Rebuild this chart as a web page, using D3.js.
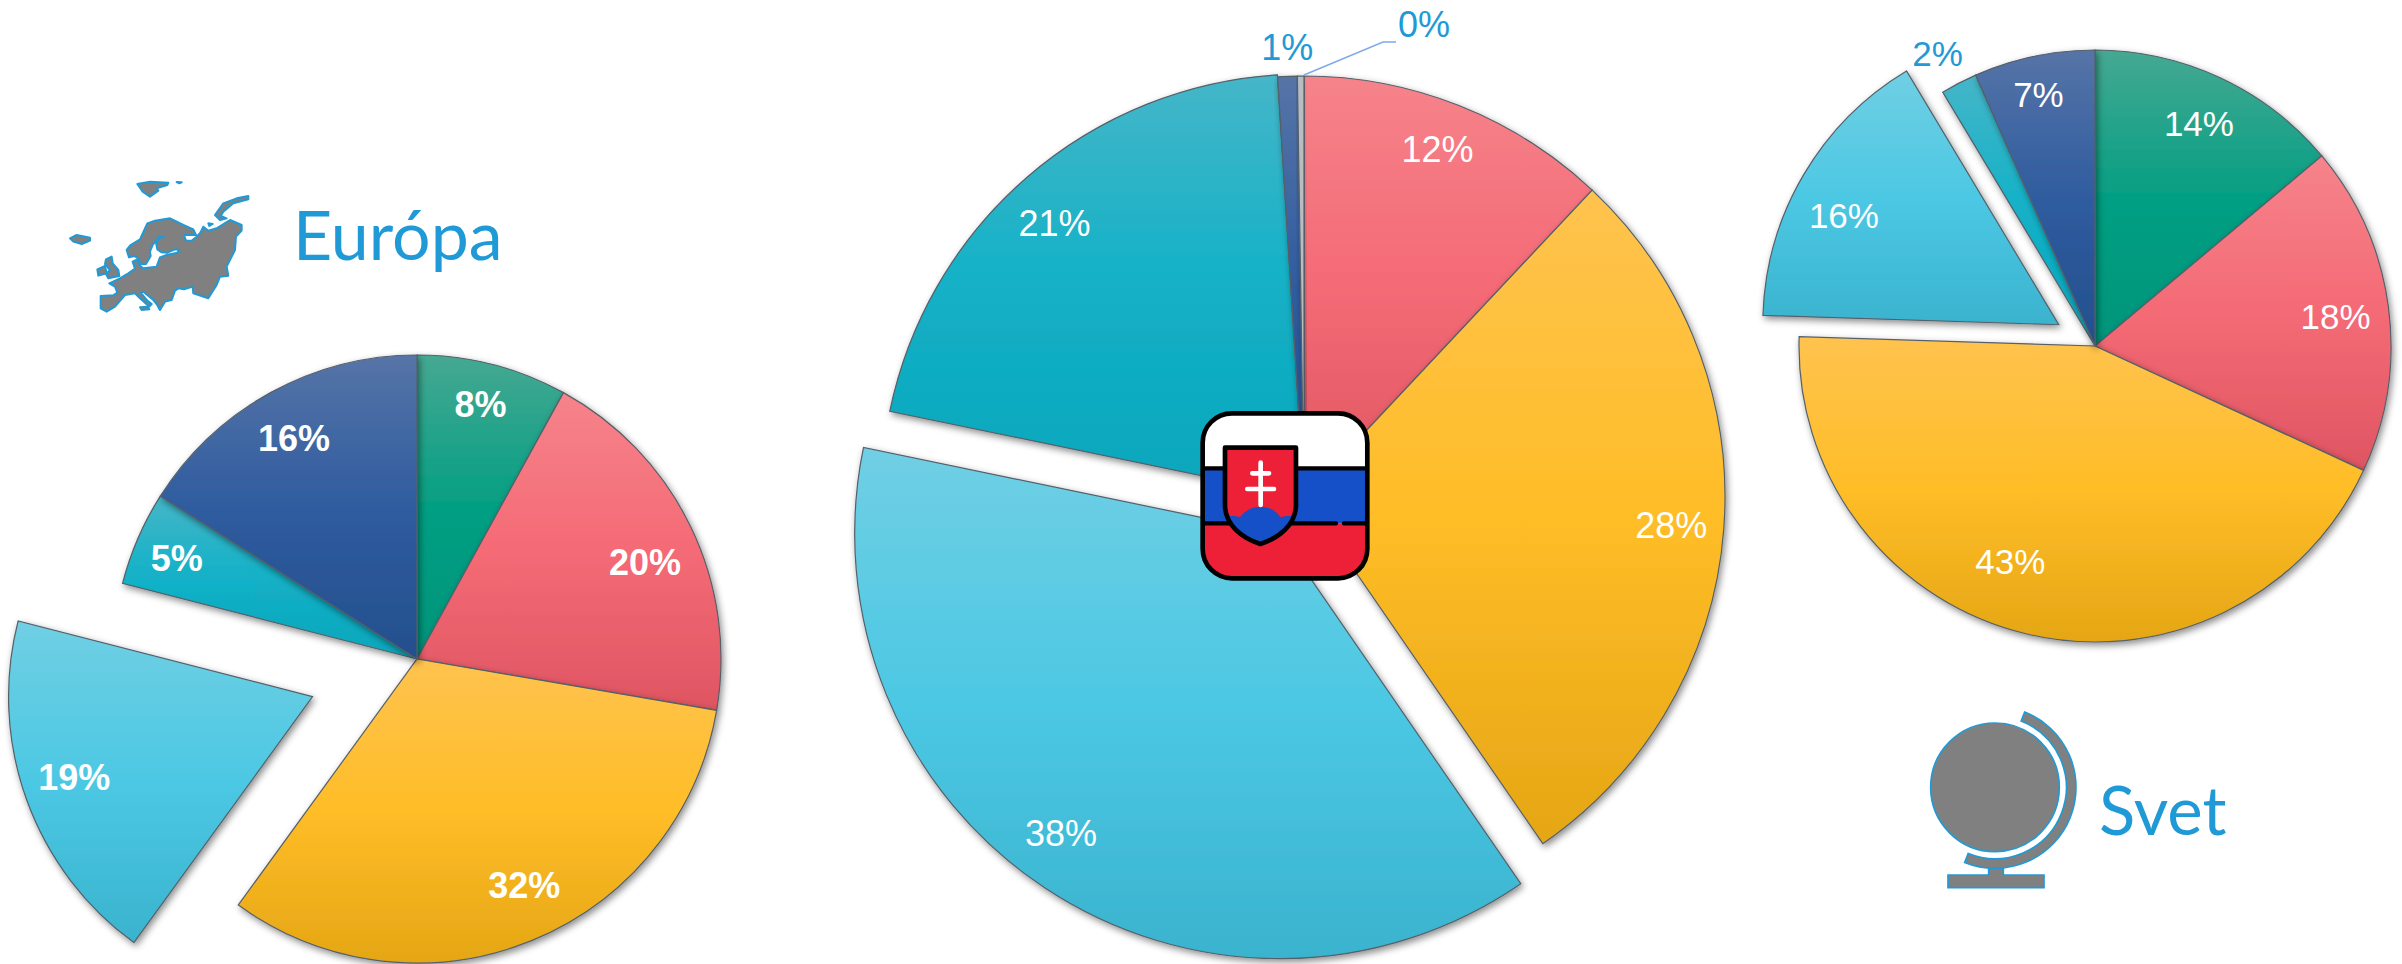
<!DOCTYPE html>
<html>
<head>
<meta charset="utf-8">
<script src="https://cdn.jsdelivr.net/npm/d3@7"></script>
<style>
  body { margin: 0; background: #fff; }
  text { font-family: "Liberation Sans", Arial, sans-serif; }
</style>
</head>
<body>
<script>
// values (a bit finer than the printed labels, so the slices land right)
const europaValues = [8, 19.7, 32.3, 19, 5, 16];
const europaLabels = ["8%", "20%", "32%", "19%", "5%", "16%"];
const europaColors = ["green", "red", "yellow", "sky", "teal", "navy"];

const slovenskoValues = [12, 28.4, 37.85, 20.75, 0.75, 0.25];
const slovenskoLabels = ["12%", "28%", "38%", "21%", "1%", ""]; // 0% sits on its leader line below
const slovenskoColors = ["red", "yellow", "sky", "teal", "navy", "hair"];

const svetValues = [13.9, 18, 43.6, 15.9, 2, 6.6];
const svetLabels = ["14%", "18%", "43%", "16%", "2%", "7%"];
const svetColors = ["green", "red", "yellow", "sky", "teal", "navy"];

// top, middle, bottom of each slice gradient
const palette = {
  green: ["#46a892", "#049f83", "#02957b"],
  red: ["#f6838b", "#f46a75", "#df5562"],
  yellow: ["#ffc34f", "#ffbd27", "#e5a615"],
  sky: ["#70cfe4", "#4cc8e4", "#3ab3ce"],
  teal: ["#45b6c8", "#12b1c7", "#0fa6bb"],
  navy: ["#5674a7", "#2f5c9f", "#244f8d"],
  hair: ["#b9bdc2", "#b9bdc2", "#b9bdc2"]
};

const blue = "#1f9ad6";
const width = 2402, height = 964;

const svg = d3.select("body").append("svg")
  .attr("width", width)
  .attr("height", height)
  .style("display", "block");

svg.append("rect").attr("width", width).attr("height", height).attr("fill", "#fff");

const defs = svg.append("defs");

Object.keys(palette).forEach(name => {
  const g = defs.append("linearGradient")
    .attr("id", "grad-" + name)
    .attr("x1", 0).attr("y1", 0).attr("x2", 0).attr("y2", 1);
  [0, 0.5, 1].forEach((o, i) => {
    g.append("stop").attr("offset", o).attr("stop-color", palette[name][i]);
  });
});

const shadow = defs.append("filter")
  .attr("id", "soft")
  .attr("x", "-10%").attr("y", "-10%").attr("width", "120%").attr("height", "120%");
shadow.append("feDropShadow")
  .attr("dx", 2).attr("dy", 3)
  .attr("stdDeviation", 3.5)
  .attr("flood-color", "#000")
  .attr("flood-opacity", 0.45);

// one exploded pie. opts.outside holds label radius factors for labels outside the slice,
// opts.nudge small pixel corrections for hand placed labels, opts.grow extra radius per slice
function drawPie(opts) {
  const pie = d3.pie().sort(null)(opts.values);
  pie.forEach((d, i) => { d.slice = i; });
  const arc = d3.arc().innerRadius(0)
    .outerRadius(d => opts.r + ((opts.grow && opts.grow[d.slice]) || 0));
  const g = svg.append("g").attr("transform", "translate(" + opts.cx + "," + opts.cy + ")");

  const offsetOf = (d, i) => {
    if (i !== opts.explode) return [0, 0];
    const mid = (d.startAngle + d.endAngle) / 2;
    return [Math.sin(mid) * opts.gap, -Math.cos(mid) * opts.gap];
  };

  g.selectAll("path")
    .data(pie)
    .join("path")
    .attr("d", arc)
    .attr("transform", (d, i) => "translate(" + offsetOf(d, i) + ")")
    .attr("fill", (d, i) => "url(#grad-" + opts.colors[i] + ")")
    .attr("stroke", "#55606a")
    .attr("stroke-width", 1.2)
    .attr("filter", "url(#soft)");

  g.selectAll("text")
    .data(pie)
    .join("text")
    .attr("text-anchor", "middle")
    .attr("dy", "0.36em")
    .attr("font-size", opts.fontSize)
    .attr("font-weight", opts.fontWeight || "normal")
    .attr("fill", (d, i) => opts.outside && opts.outside[i] ? blue : "#fff")
    .attr("transform", (d, i) => {
      const mid = (d.startAngle + d.endAngle) / 2;
      const k = (opts.outside && opts.outside[i]) || opts.labelAt;
      const off = offsetOf(d, i);
      const n = (opts.nudge && opts.nudge[i]) || [0, 0];
      return "translate(" + (off[0] + n[0] + Math.sin(mid) * opts.r * k) + "," + (off[1] + n[1] - Math.cos(mid) * opts.r * k) + ")";
    })
    .text((d, i) => opts.labels[i]);
}

drawPie({
  cx: 417, cy: 659, r: 304, gap: 111, explode: 3,
  values: europaValues, labels: europaLabels, colors: europaColors,
  fontSize: 36, fontWeight: "bold", labelAt: 0.84,
  nudge: { 0: [0, -8], 1: [-2, 14], 2: [11, -11], 3: [2, -6], 4: [-6, 0], 5: [0, 3] }
});

drawPie({
  cx: 1304, cy: 497, r: 421, gap: 44, explode: 2, grow: { 2: 4, 3: 2 },
  values: slovenskoValues, labels: slovenskoLabels, colors: slovenskoColors,
  fontSize: 36, labelAt: 0.875, outside: { 4: 1.07 },
  nudge: { 0: [-2, -5], 1: [0, 0], 2: [-15, -8], 3: [-8, 4], 4: [1, 0] }
});

drawPie({
  cx: 2095, cy: 346, r: 296, gap: 42, explode: 3,
  values: svetValues, labels: svetLabels, colors: svetColors,
  fontSize: 35, labelAt: 0.83, outside: { 4: 1.12 },
  nudge: { 1: [-3, 3], 2: [-28, -24], 3: [-3, 15], 4: [-5, 2], 5: [-6, -11] }
});

// leader line of the 0% label
svg.append("path")
  .attr("d", d3.line()([[1304, 75], [1383, 42], [1396, 42]]))
  .attr("fill", "none")
  .attr("stroke", "#7fa9e8")
  .attr("stroke-width", 1.5);
svg.append("text")
  .attr("x", 1424).attr("y", 37)
  .attr("text-anchor", "middle")
  .attr("font-size", 36)
  .attr("fill", blue)
  .text("0%");

// titles
svg.append("text").attr("x", 293).attr("y", 260)
  .style("font-family", "Lato").attr("font-size", 68).attr("fill", blue).text("Európa");
svg.append("text").attr("x", 2099).attr("y", 835)
  .style("font-family", "Lato").attr("font-size", 67).attr("fill", blue).text("Svet");

// Europe icon, traced in the 3x crop's coordinates
const europe = svg.append("g")
  .attr("transform", "translate(60,170) scale(0.3333)")
  .attr("fill", "#808080")
  .attr("stroke", blue)
  .attr("stroke-width", 6)
  .attr("stroke-linejoin", "round");

const europeShapes = [
  "M122,378 L160,376 L172,368 L165,350 L148,340 L180,325 L205,310 L225,296 L218,275 L232,268 L240,288 L250,295 L290,290 L300,262 L320,255 L352,248 L358,240 L345,238 L322,248 L305,247 L292,238 L288,218 L298,205 L312,198 L298,200 L278,225 L270,245 L272,258 L258,282 L243,283 L235,265 L222,258 L207,262 L200,240 L212,225 L240,208 L255,175 L262,160 L285,152 L330,145 L370,165 L400,178 L408,195 L372,195 L378,212 L395,212 L410,200 L420,190 L430,170 L445,182 L470,175 L510,150 L545,165 L545,182 L528,200 L525,240 L500,290 L505,317 L480,320 L470,345 L445,385 L400,370 L398,350 L372,358 L355,355 L345,362 L335,390 L315,395 L300,420 L290,402 L280,390 L250,365 L242,368 L262,392 L275,402 L268,410 L240,385 L225,370 L195,375 L165,410 L140,425 L122,415 Z",
  "M465,135 L490,100 L530,85 L565,78 L565,88 L520,100 L490,125 L482,138 L500,145 L480,150 Z",
  "M232,42 L270,35 L325,38 L322,45 L290,55 L295,62 L270,80 L248,65 Z",
  "M350,36 L365,37 L358,40 Z",
  "M445,160 L458,162 L448,168 Z",
  "M30,205 L50,195 L90,203 L90,212 L65,222 L40,215 Z",
  "M138,268 L155,260 L158,280 L175,300 L178,318 L145,325 L138,312 L150,300 L135,282 Z",
  "M112,298 L135,288 L140,310 L115,317 Z",
  "M240,412 L262,410 L268,418 L245,420 Z"
];
europe.selectAll("path").data(europeShapes).join("path").attr("d", d => d);

// Slovak flag badge, traced in the 3x crop's coordinates
const flag = svg.append("g").attr("transform", "translate(1150,380) scale(0.3333)");
defs.append("clipPath").attr("id", "badge").append("rect")
  .attr("x", 158).attr("y", 100).attr("width", 494).attr("height", 495).attr("rx", 88);
const stripes = flag.append("g").attr("clip-path", "url(#badge)");
stripes.append("rect").attr("x", 150).attr("y", 90).attr("width", 510).attr("height", 175).attr("fill", "#fff");
stripes.append("rect").attr("x", 150).attr("y", 265).attr("width", 510).attr("height", 165).attr("fill", "#1650c8");
stripes.append("rect").attr("x", 150).attr("y", 430).attr("width", 510).attr("height", 170).attr("fill", "#ee2037");
flag.append("path").attr("d", "M160,265 H650 M160,430 H558 M582,430 H650")
  .attr("fill", "none").attr("stroke", "#000").attr("stroke-width", 13).attr("stroke-linecap", "round");
flag.append("rect")
  .attr("x", 158).attr("y", 100).attr("width", 494).attr("height", 495).attr("rx", 88)
  .attr("fill", "none").attr("stroke", "#000").attr("stroke-width", 14);
const shieldPath = "M225,203 H438 V375 C438,435 385,475 331,492 C277,475 225,435 225,375 Z";
flag.append("path").attr("d", shieldPath).attr("fill", "#ee2037");
defs.append("clipPath").attr("id", "shield").append("path").attr("d", shieldPath);
flag.append("path")
  .attr("clip-path", "url(#shield)")
  .attr("d", "M225,412 Q250,402 270,412 C285,390 310,380 332,380 C355,380 378,390 392,412 Q415,402 440,412 V500 H225 Z")
  .attr("fill", "#1650c8");
flag.append("path").attr("d", "M332,375 V248 M307,280 H357 M292,327 H372")
  .attr("fill", "none").attr("stroke", "#fff").attr("stroke-width", 14).attr("stroke-linecap", "round");
flag.append("path").attr("d", shieldPath)
  .attr("fill", "none").attr("stroke", "#000").attr("stroke-width", 14).attr("stroke-linejoin", "round");

// globe icon, traced in the 3x crop's coordinates
const globe = svg.append("g")
  .attr("transform", "translate(1900,680) scale(0.3333)")
  .attr("fill", "#808080")
  .attr("stroke", blue)
  .attr("stroke-width", 5);
globe.append("path")
  .attr("d", "M266,563 H310 V585 H432 V623 H144 V585 H266 Z");
globe.append("path")
  .attr("transform", "translate(285,322)")
  .attr("d", d3.arc().innerRadius(214).outerRadius(243)
    .startAngle(21.5 * Math.PI / 180).endAngle(202 * Math.PI / 180)());
globe.append("circle").attr("cx", 285).attr("cy", 322).attr("r", 193);
</script>
</body>
</html>
